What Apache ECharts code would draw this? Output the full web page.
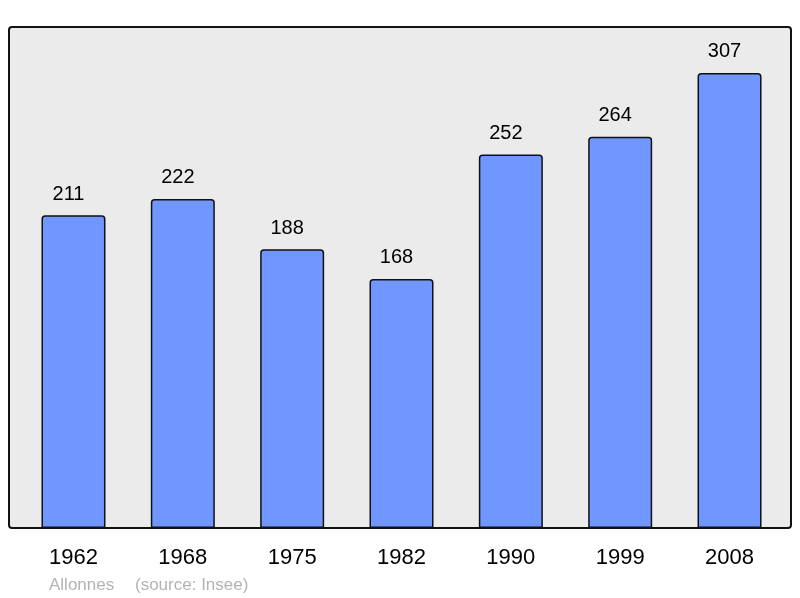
<!DOCTYPE html>
<html><head><meta charset="utf-8">
<script src="https://cdn.jsdelivr.net/npm/echarts@6/dist/echarts.min.js"></script>
<style>html,body{margin:0;padding:0;background:#fff}#c{width:800px;height:598px}</style>
</head><body><div id="c"></div>
<script>
const categories = ['1962','1968','1975','1982','1990','1999','2008'];
const population = [211, 222, 188, 168, 252, 264, 307];
const footerPlace = 'Allonnes';
const footerSource = '(source: Insee)';

const chart = echarts.init(document.getElementById('c'), null, {renderer:'canvas'});
const FONT = '"Liberation Sans", Arial, sans-serif';
chart.setOption({
  animation: false,
  backgroundColor: '#ffffff',
  grid: {left: 18.8, right: 15.8, top: 27, bottom: 70, containLabel: false},
  graphic: [
    {type:'rect', z: -10, shape:{x:9, y:27, width:782, height:501, r:3},
     style:{fill:'#ebebeb', stroke:null}},
    {type:'rect', z: 100, shape:{x:9, y:27, width:782, height:501, r:3},
     style:{fill:null, stroke:'#111', lineWidth:2}},
    {type:'text', left:49, top:577, z:100,
     style:{text: footerPlace, font:'17px ' + FONT, fill:'#b3b3b3'}},
    {type:'text', left:135, top:577, z:100,
     style:{text: footerSource, font:'17px ' + FONT, fill:'#b3b3b3'}}
  ],
  xAxis: {
    type:'category', data: categories,
    axisLine:{show:false}, axisTick:{show:false},
    axisLabel:{fontSize:22, color:'#000', fontFamily:FONT, margin:19}
  },
  yAxis: {
    type:'value', min:0, max:338,
    show:false, splitLine:{show:false}
  },
  series: [{
    type:'bar', data: population, barWidth: 64,
    itemStyle:{color:'#7097ff', borderColor:'#111', borderWidth:1.5, borderRadius:[3,3,0,0]},
    label:{show:true, position:'top', distance:11, offset:[-5,0], fontSize:20, color:'#000', fontFamily:FONT}
  }]
});
</script></body></html>
